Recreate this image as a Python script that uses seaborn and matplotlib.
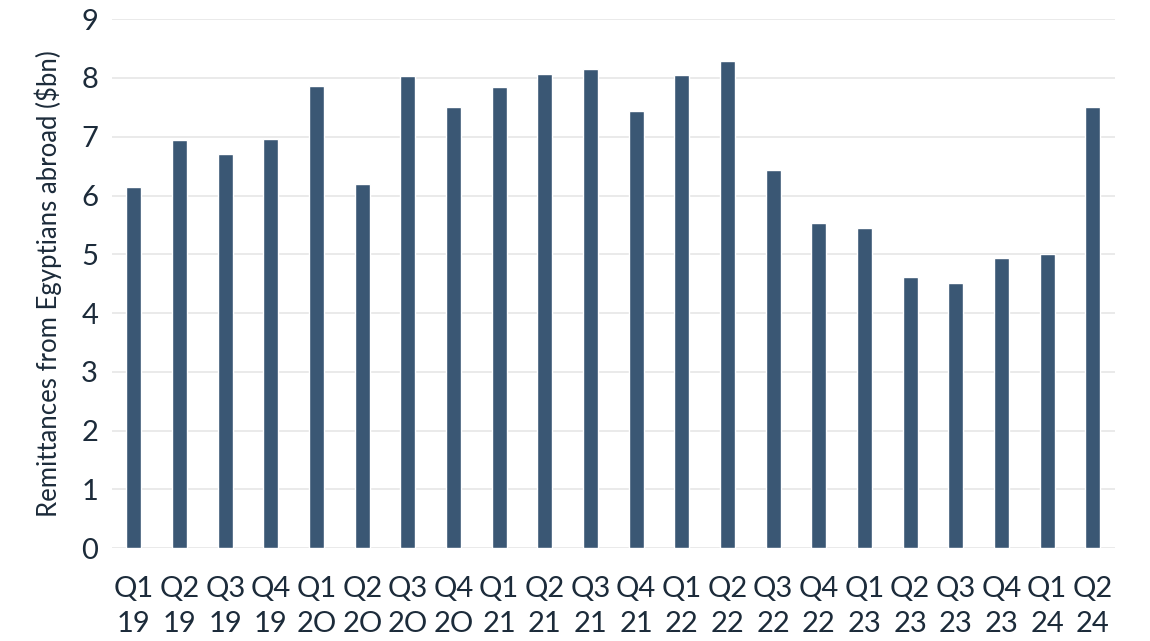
import pandas as pd
import matplotlib.pyplot as plt
import seaborn as sns

# ---------- DATA ----------
quarters = ['Q1', 'Q2', 'Q3', 'Q4'] * 5 + ['Q1', 'Q2']
years = ['19'] * 4 + ['2O'] * 4 + ['21'] * 4 + ['22'] * 4 + ['23'] * 4 + ['24'] * 2
remittances = [6.15, 6.94, 6.70, 6.96, 7.87, 6.20, 8.03, 7.50, 7.85, 8.06, 8.15,
               7.44, 8.05, 8.29, 6.44, 5.54, 5.45, 4.62, 4.51, 4.93, 5.00, 7.50]
labels = [f"{q}\n{y}" for q, y in zip(quarters, years)]

df = pd.DataFrame({'period': labels, 'value': remittances})

# ---------- STYLE ----------
sns.set_style('white')
plt.rcParams['font.family'] = ['Lato', 'DejaVu Sans']
TEXT = '#1c2b3a'
BAR = '#3a5774'

fig = plt.figure(figsize=(11.5, 6.41), dpi=100)
ax = fig.add_axes([0.0974, 0.145, 0.872, 0.825])

sns.barplot(data=df, x='period', y='value', color=BAR, width=0.33,
            saturation=1, ax=ax, zorder=3)

ax.set_ylim(0, 9)
ax.set_xlim(-0.48, len(labels) - 0.52)
ax.set_yticks(range(0, 10))
ax.yaxis.grid(True, color='#e6e6e6', linewidth=1.2, zorder=0)
ax.set_axisbelow(True)
sns.despine(ax=ax, left=True, bottom=True)

ax.tick_params(axis='both', length=0, colors=TEXT, labelsize=21)
ax.tick_params(axis='y', pad=10)
ax.tick_params(axis='x', pad=20)
for t in ax.get_xticklabels():
    t.set_linespacing(1.45)

ax.set_xlabel('')
ax.set_ylabel('Remittances from Egyptians abroad ($bn)', fontsize=18.5, color=TEXT, labelpad=14)

plt.savefig('out.png', dpi=100)
plt.close()
